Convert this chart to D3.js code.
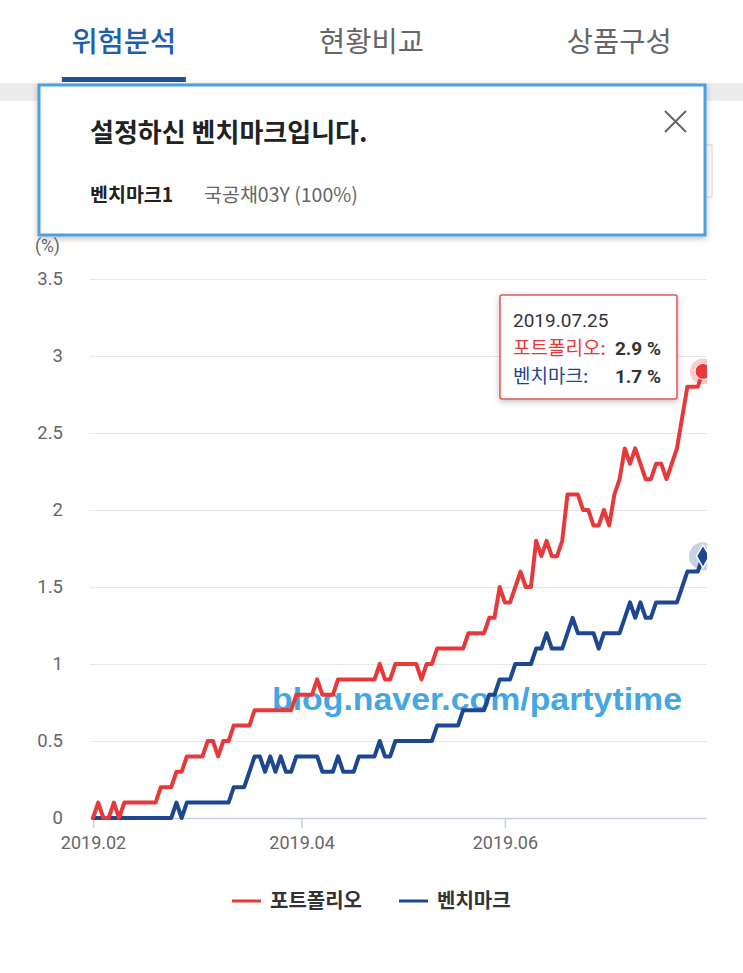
<!DOCTYPE html>
<html>
<head>
<meta charset="utf-8">
<script src="https://cdn.jsdelivr.net/npm/d3@7"></script>
<style>
body { margin: 0; background: #fff; }
svg { display: block; }
</style>
</head>
<body>
<svg></svg>
<script>
var width = 743;
var height = 973;

// tabs on top of the screen
var tabs = ["위험분석", "현황비교", "상품구성"];
var activeTab = 0;

// popup texts
var popupTitle = "설정하신 벤치마크입니다.";
var benchName = "벤치마크1";
var benchDesc = "국공채03Y (100%)";

// series - one value per trading day, 2019.02 ~ 2019.07.25 (%)
var seriesNames = ["포트폴리오", "벤치마크"];
var portfolio = [
  0, 0.1, 0, 0, 0.1, 0, 0.1, 0.1, 0.1, 0.1,
  0.1, 0.1, 0.1, 0.2, 0.2, 0.2, 0.3, 0.3, 0.4, 0.4,
  0.4, 0.4, 0.5, 0.5, 0.4, 0.5, 0.5, 0.6, 0.6, 0.6,
  0.6, 0.7, 0.7, 0.7, 0.7, 0.7, 0.7, 0.7, 0.7, 0.8,
  0.8, 0.8, 0.8, 0.9, 0.8, 0.8, 0.8, 0.9, 0.9, 0.9,
  0.9, 0.9, 0.9, 0.9, 0.9, 1.0, 0.9, 0.9, 1.0, 1.0,
  1.0, 1.0, 1.0, 0.9, 1.0, 1.0, 1.1, 1.1, 1.1, 1.1,
  1.1, 1.1, 1.2, 1.2, 1.2, 1.2, 1.3, 1.3, 1.5, 1.4,
  1.4, 1.5, 1.6, 1.5, 1.5, 1.8, 1.7, 1.8, 1.7, 1.7,
  1.8, 2.1, 2.1, 2.1, 2.0, 2.0, 1.9, 1.9, 2.0, 1.9,
  2.1, 2.2, 2.4, 2.3, 2.4, 2.3, 2.2, 2.2, 2.3, 2.3,
  2.2, 2.3, 2.4, 2.6, 2.8, 2.8, 2.8, 2.9
];
var benchmark = [
  0, 0, 0, 0, 0, 0, 0, 0, 0, 0,
  0, 0, 0, 0, 0, 0, 0.1, 0, 0.1, 0.1,
  0.1, 0.1, 0.1, 0.1, 0.1, 0.1, 0.1, 0.2, 0.2, 0.2,
  0.3, 0.4, 0.4, 0.3, 0.4, 0.3, 0.4, 0.3, 0.3, 0.4,
  0.4, 0.4, 0.4, 0.4, 0.3, 0.3, 0.3, 0.4, 0.3, 0.3,
  0.3, 0.4, 0.4, 0.4, 0.4, 0.5, 0.4, 0.4, 0.5, 0.5,
  0.5, 0.5, 0.5, 0.5, 0.5, 0.5, 0.6, 0.6, 0.6, 0.6,
  0.6, 0.7, 0.7, 0.7, 0.7, 0.7, 0.8, 0.8, 0.9, 0.9,
  0.9, 1.0, 1.0, 1.0, 1.0, 1.1, 1.1, 1.2, 1.1, 1.1,
  1.1, 1.2, 1.3, 1.2, 1.2, 1.2, 1.2, 1.1, 1.2, 1.2,
  1.2, 1.2, 1.3, 1.4, 1.3, 1.4, 1.3, 1.3, 1.4, 1.4,
  1.4, 1.4, 1.4, 1.5, 1.6, 1.6, 1.6, 1.7
];
var lastDate = "2019.07.25";

// axis ticks
var yTicks = [0, 0.5, 1, 1.5, 2, 2.5, 3, 3.5];
var xTickIdx = [0, 40, 79];
var xTickLabels = ["2019.02", "2019.04", "2019.06"];

var colors = ["#e8393a", "#1d4791"];
var numFont = "Roboto, 'Noto Sans CJK KR', sans-serif";
var krFont = "'Noto Sans CJK KR', sans-serif";

var svg = d3.select("svg")
    .attr("width", width)
    .attr("height", height);

var defs = svg.append("defs");
var shadow = defs.append("filter").attr("id", "shadow")
    .attr("x", "-10%").attr("y", "-10%").attr("width", "120%").attr("height", "130%");
shadow.append("feDropShadow")
    .attr("dx", 0).attr("dy", 2).attr("stdDeviation", 3)
    .attr("flood-color", "#000").attr("flood-opacity", 0.25);

// ---------- tabs ----------
var tabScale = d3.scaleBand().domain(tabs).range([0, width]);
svg.selectAll(".tab")
    .data(tabs)
    .enter()
    .append("text")
    .attr("class", "tab")
    .attr("x", function(d) { return tabScale(d) + tabScale.bandwidth() / 2; })
    .attr("y", 52)
    .attr("text-anchor", "middle")
    .style("font-family", krFont)
    .style("font-size", "28.5px")
    .style("font-weight", function(d, i) { return i === activeTab ? 500 : 400; })
    .attr("fill", function(d, i) { return i === activeTab ? "#1f5eae" : "#666"; })
    .text(function(d) { return d; });

svg.append("rect")
    .attr("x", 0).attr("y", 83).attr("width", width).attr("height", 18)
    .attr("fill", "#ececec");
svg.append("rect")
    .attr("x", tabScale(tabs[activeTab]) + tabScale.bandwidth() / 2 - 62)
    .attr("y", 77).attr("width", 124).attr("height", 5)
    .attr("fill", "#1f4f9c");

// faint select box behind popup
svg.append("rect")
    .attr("x", 560).attr("y", 145).attr("width", 152).attr("height", 52)
    .attr("fill", "#fff").attr("stroke", "#d6d6d6");

// ---------- chart ----------
var plotLeft = 90, plotRight = 707, plotTop = 279, plotBottom = 818;

var xScale = d3.scaleLinear()
    .domain([0, portfolio.length - 1])
    .range([93, 703]);
var yScale = d3.scaleLinear()
    .domain([0, 3.5])
    .range([plotBottom, plotTop]);

var yAxis = d3.axisLeft(yScale)
    .tickValues(yTicks)
    .tickFormat(d3.format("~g"))
    .tickSize(-(plotRight - plotLeft))
    .tickPadding(27);

var gy = svg.append("g")
    .attr("transform", "translate(" + plotLeft + ",0)")
    .call(yAxis);
gy.select(".domain").remove();
gy.selectAll("line")
    .attr("stroke", function(d) { return d === 0 ? "#c7cfe3" : "#e6e6e6"; })
    .attr("stroke-width", function(d) { return d === 0 ? 1.5 : 1.2; });
gy.selectAll("text")
    .style("font-family", numFont)
    .style("font-size", "18.5px")
    .attr("fill", "#666");

var xAxis = d3.axisBottom(xScale)
    .tickValues(xTickIdx)
    .tickFormat(function(d, i) { return xTickLabels[i]; })
    .tickSize(10)
    .tickPadding(8);

var gx = svg.append("g")
    .attr("transform", "translate(0," + plotBottom + ")")
    .call(xAxis);
gx.select(".domain").remove();
gx.selectAll("line").attr("stroke", "#c7cfe3").attr("stroke-width", 1.5);
gx.selectAll("text")
    .style("font-family", numFont)
    .style("font-size", "18px")
    .attr("fill", "#666");

svg.append("text")
    .attr("x", 35).attr("y", 252)
    .style("font-family", numFont)
    .style("font-size", "17.5px")
    .attr("fill", "#666")
    .text("(%)");

// watermark
svg.append("text")
    .attr("x", 272).attr("y", 710)
    .attr("textLength", 410)
    .attr("lengthAdjust", "spacingAndGlyphs")
    .style("font-family", "'Liberation Sans', Arial, sans-serif")
    .style("font-size", "32px")
    .style("font-weight", "bold")
    .attr("fill", "#45a7e2")
    .text("blog.naver.com/partytime");

defs.append("clipPath").attr("id", "plotclip")
    .append("rect")
    .attr("x", plotLeft).attr("y", plotTop - 20)
    .attr("width", plotRight - plotLeft).attr("height", plotBottom - plotTop + 30);

var plot = svg.append("g").attr("clip-path", "url(#plotclip)");

var line = d3.line()
    .x(function(d, i) { return xScale(i); })
    .y(function(d) { return yScale(d); });

var series = [benchmark, portfolio];
var seriesColor = [colors[1], colors[0]];

plot.selectAll(".series")
    .data(series)
    .enter()
    .append("path")
    .attr("class", "series")
    .attr("d", line)
    .attr("fill", "none")
    .attr("stroke", function(d, i) { return seriesColor[i]; })
    .attr("stroke-width", 4)
    .attr("stroke-linejoin", "round")
    .attr("stroke-linecap", "round");

// end markers (hovered point)
var li = portfolio.length - 1;
plot.append("circle")
    .attr("cx", xScale(li)).attr("cy", yScale(portfolio[li]))
    .attr("r", 13).attr("fill", colors[0]).attr("fill-opacity", 0.25);
plot.append("circle")
    .attr("cx", xScale(li)).attr("cy", yScale(portfolio[li]))
    .attr("r", 8).attr("fill", colors[0]).attr("stroke", "#fff").attr("stroke-width", 1);

plot.append("circle")
    .attr("cx", xScale(li)).attr("cy", yScale(benchmark[li]))
    .attr("r", 14).attr("fill", colors[1]).attr("fill-opacity", 0.25);
plot.append("path")
    .attr("transform", "translate(" + xScale(li) + "," + yScale(benchmark[li]) + ")")
    .attr("d", d3.symbol().type(d3.symbolDiamond).size(150))
    .attr("fill", colors[1]).attr("stroke", "#fff").attr("stroke-width", 1.5);

// ---------- tooltip ----------
var tip = svg.append("g").attr("transform", "translate(500,295)");
tip.append("rect")
    .attr("width", 177).attr("height", 104).attr("rx", 2)
    .attr("fill", "#fff").attr("stroke", "#e05656").attr("stroke-width", 1.5)
    .attr("filter", "url(#shadow)");
tip.append("text")
    .attr("x", 13).attr("y", 32)
    .style("font-family", numFont).style("font-size", "19px")
    .attr("fill", "#333").text(lastDate);
var tipVals = [portfolio[li], benchmark[li]];
seriesNames.forEach(function(name, i) {
    tip.append("text")
        .attr("x", 13).attr("y", 60 + i * 28)
        .style("font-family", krFont).style("font-size", "19px")
        .attr("fill", colors[i]).text(name + ":");
    tip.append("text")
        .attr("x", 161).attr("y", 60 + i * 28)
        .attr("text-anchor", "end")
        .style("font-family", numFont).style("font-size", "19px").style("font-weight", "bold")
        .attr("fill", "#333").text(d3.format(".1f")(tipVals[i]) + " %");
});

// ---------- legend ----------
var legendX = [232, 399];
var legend = svg.selectAll(".legend")
    .data(seriesNames)
    .enter()
    .append("g")
    .attr("class", "legend")
    .attr("transform", function(d, i) { return "translate(" + legendX[i] + ",901)"; });
legend.append("line")
    .attr("x1", 0).attr("x2", 29)
    .attr("stroke", function(d, i) { return colors[i]; })
    .attr("stroke-width", 3);
legend.append("text")
    .attr("x", 38).attr("y", 7)
    .style("font-family", krFont).style("font-size", "20px").style("font-weight", "bold")
    .attr("fill", "#333")
    .text(function(d) { return d; });

// ---------- popup ----------
var popup = svg.append("g");
popup.append("rect")
    .attr("x", 39).attr("y", 85).attr("width", 666).attr("height", 150)
    .attr("fill", "#fff").attr("stroke", "#4e9fe2").attr("stroke-width", 3)
    .attr("filter", "url(#shadow)");
popup.append("text")
    .attr("x", 90).attr("y", 142)
    .style("font-family", krFont).style("font-size", "26px").style("font-weight", "bold")
    .attr("fill", "#222").text(popupTitle);
popup.append("text")
    .attr("x", 90).attr("y", 202)
    .style("font-family", krFont).style("font-size", "19.5px").style("font-weight", "bold")
    .attr("fill", "#222").text(benchName);
popup.append("text")
    .attr("x", 204).attr("y", 202)
    .style("font-family", krFont).style("font-size", "19.5px")
    .attr("fill", "#666").text(benchDesc);
popup.append("path")
    .attr("d", "M665,111L686,132M686,111L665,132")
    .attr("stroke", "#666").attr("stroke-width", 2);
</script>
</body>
</html>
